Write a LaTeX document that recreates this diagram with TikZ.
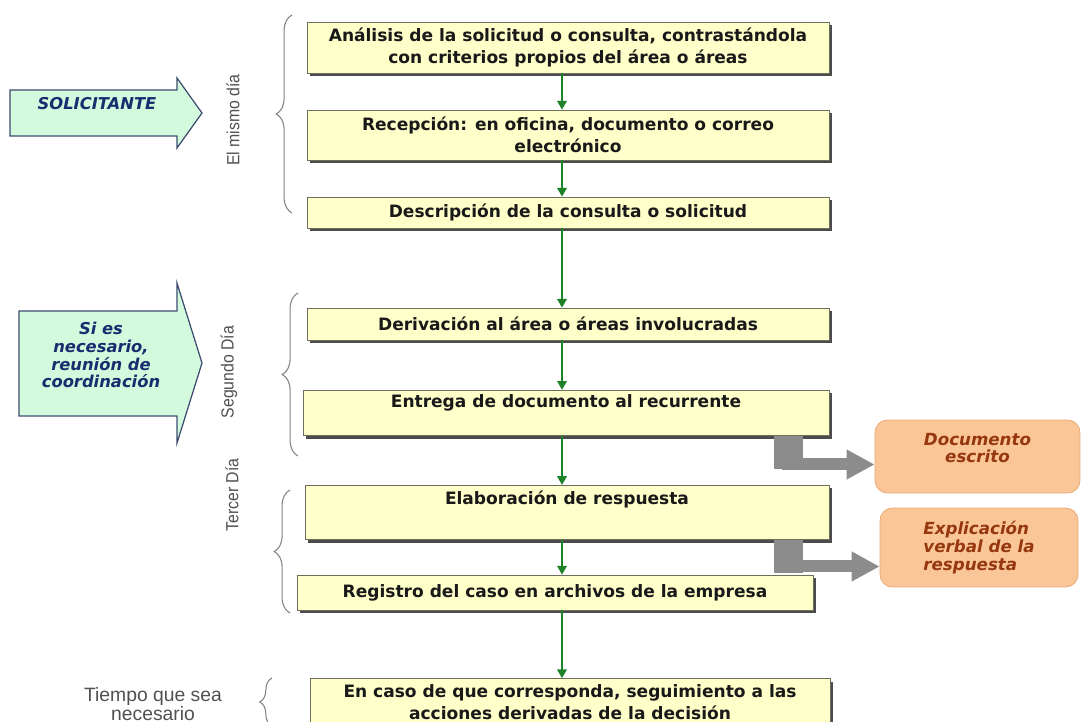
\documentclass[tikz,border=0pt]{standalone}
\usepackage{fontspec}
\setmainfont{DejaVu Sans}
\newfontfamily\narrowfont[FakeStretch=0.9]{Liberation Sans}
\newfontfamily\labelfont{Liberation Sans}
\usetikzlibrary{arrows.meta, positioning, shadows, calc, decorations.pathreplacing}
\definecolor{boxyellow}{RGB}{255,255,202}
\definecolor{boxline}{RGB}{110,110,90}
\definecolor{flowgreen}{RGB}{30,130,40}
\definecolor{arrowgreen}{RGB}{212,250,222}
\definecolor{arrowline}{RGB}{60,75,110}
\definecolor{textblue}{RGB}{25,45,110}
\definecolor{notefill}{RGB}{250,198,152}
\definecolor{noteline}{RGB}{232,165,115}
\definecolor{notetext}{RGB}{150,55,15}
\definecolor{bracegray}{RGB}{130,130,130}
\definecolor{daytext}{RGB}{80,80,80}
\definecolor{outgray}{RGB}{140,140,140}

\begin{document}
\begin{tikzpicture}[x=0.02cm,y=-0.02cm,
    paso/.style={rectangle,draw=boxline,fill=boxyellow,minimum width=10.44cm,align=center,
        font=\bfseries\fontsize{9.7}{12.2}\selectfont,text=black!90,
        drop shadow={shadow xshift=1.8pt,shadow yshift=-1.8pt,fill=black!70,opacity=1}},
    flujo/.style={draw=flowgreen,line width=0.8pt,-{Triangle[width=5.5pt,length=5pt]}},
    llave/.style={decorate,decoration={brace,amplitude=9pt},draw=bracegray,line width=0.6pt},
    dia/.style={rotate=90,font=\narrowfont\fontsize{10}{12}\selectfont,text=daytext},
    entrada/.style={draw=arrowline,fill=arrowgreen,line width=0.7pt},
    entradatexto/.style={align=center,text=textblue,font=\bfseries\itshape\fontsize{9.3}{10.2}\selectfont},
    nota/.style={rectangle,rounded corners=7pt,draw=noteline,fill=notefill,minimum width=4.1cm,
        font=\bfseries\itshape\fontsize{9.5}{10}\selectfont,text=notetext},
    salida/.style={draw=outgray,line width=0.24cm,-{Triangle[width=0.56cm,length=0.56cm]}},
    talon/.style={draw=outgray,line width=0.58cm}]

    \useasboundingbox (0,0) rectangle (1083,722);

    % Flechas de entrada
    \draw[entrada] (10,90) -- (177,90) -- (177,78) -- (202,113) -- (177,148) -- (177,136) -- (10,136) -- cycle;
    \node[entradatexto] (solicitante) at (97,104) {SOLICITANTE};
    \draw[entrada] (19,311) -- (177,311) -- (177,283) -- (202,363) -- (177,443) -- (177,416) -- (19,416) -- cycle;
    \node[entradatexto] (reunion) at (101,355) {Si es\\necesario,\\reunión de\\coordinación};

    % Pasos del proceso
    \node[paso,minimum height=1.02cm] (b1) at (568,47.5) {Análisis de la solicitud o consulta, contrastándola\\con criterios propios del área o áreas};
    \node[paso,minimum height=1.0cm] (b2) at (568,135) {Recepción: en oficina, documento o correo\\electrónico};
    \node[paso,minimum height=0.62cm] (b3) at (568,212.5) {Descripción de la consulta o solicitud};
    \node[paso,minimum height=0.64cm] (b4) at (568,324) {Derivación al área o áreas involucradas};
    \node[paso,minimum width=10.52cm,inner ysep=3pt,text height=7pt,text depth=13pt] (b5) at (566,413) {Entrega de documento al recurrente};
    \node[paso,minimum width=10.48cm,inner ysep=3pt,text height=8pt,text depth=17pt] (b6) at (567,512.5) {Elaboración de respuesta};
    \node[paso,minimum width=10.32cm,minimum height=0.7cm] (b7) at (555,592.5) {Registro del caso en archivos de la empresa};
    \node[paso,minimum width=10.4cm,minimum height=0.94cm] (b8) at (570,702) {En caso de que corresponda, seguimiento a las\\acciones derivadas de la decisión};

    % Conexiones
    \coordinate (eje) at (562,0);
    \foreach \a/\b in {b1/b2,b2/b3,b3/b4,b4/b5,b5/b6,b6/b7,b7/b8}
        \draw[flujo] (\a.south -| eje) -- (\b.north -| eje);

    % Resultados
    \node[nota,minimum height=1.46cm,align=center] (doc) at (977.5,456.5) {Documento\\escrito\\[0pt]\mbox{}};
    \node[nota,minimum width=3.96cm,minimum height=1.58cm,align=left] (expl) at (979,547.5) {Explicación\\verbal de la\\respuesta};

    \coordinate (sx) at (788,0);
    \draw[talon] (b5.south -| sx) -- ++(0,33);
    \draw[salida] (b5.south -| sx) |- ($(doc.west)+(0,8)$);
    \draw[talon] (b6.south -| sx) -- ++(0,33);
    \draw[salida] (b6.south -| sx) |- ($(expl.west)+(0,19)$);

    % Llaves y tiempos
    \draw[llave] (292,213) -- (292,15);
    \draw[llave] (298,456) -- (298,293);
    \draw[llave] (290,613) -- (290,490);
    \draw[llave,decoration={brace,amplitude=7pt}] (272,726) -- (272,678);
    \node[dia] (dia1) at (233,120) {El mismo día};
    \node[dia] (dia2) at (229,372) {Segundo Día};
    \node[dia] (dia3) at (232,495) {Tercer Día};
    \node[align=center,text=daytext,font=\labelfont\fontsize{11}{10.5}\selectfont] (tiempo) at (153,704) {Tiempo que sea\\necesario};
\end{tikzpicture}
\end{document}
